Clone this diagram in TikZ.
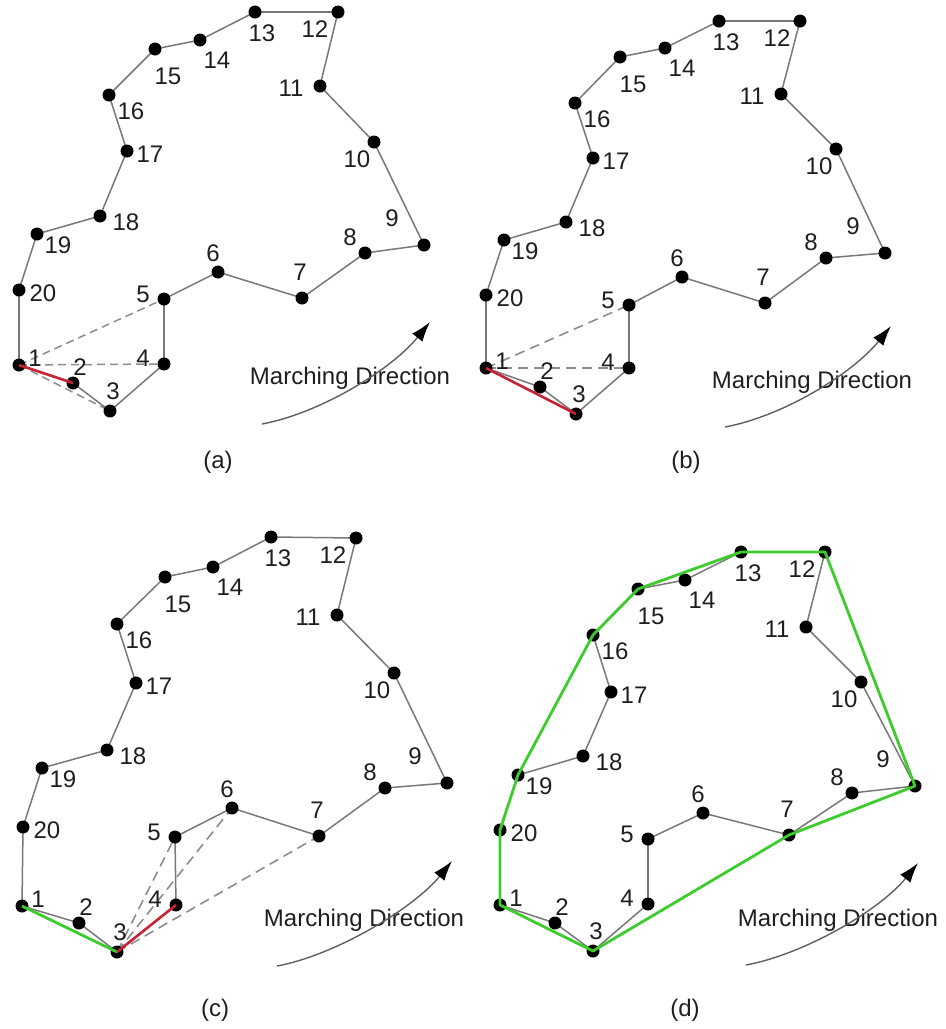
\documentclass[tikz,border=0pt]{standalone}
\usepackage{fontspec}
\setmainfont{Liberation Sans}
\usetikzlibrary{calc,arrows.meta}
\definecolor{edgegray}{RGB}{120,120,120}
\definecolor{dashgray}{RGB}{140,140,140}
\definecolor{hullgreen}{RGB}{60,205,45}
\definecolor{redline}{RGB}{200,35,50}
\definecolor{txtgray}{RGB}{30,30,30}
\definecolor{arrowgray}{RGB}{95,95,95}
\tikzset{
  edge/.style={draw=edgegray,line width=0.75pt},
  dashedge/.style={draw=dashgray,line width=0.75pt,dash pattern=on 4pt off 2.5pt},
  longdash/.style={draw=dashgray,line width=0.8pt,dash pattern=on 5pt off 3pt},
  redseg/.style={draw=redline,line width=1.3pt},
  greenseg/.style={draw=hullgreen,line width=1.4pt,line join=round},
  dot/.style={circle,fill=black,inner sep=0pt,minimum size=6.5pt},
  lbl/.style={inner sep=0pt,text=txtgray,font=\fontsize{12}{14}\selectfont},
  march/.style={draw=arrowgray,line width=0.7pt,-{Latex[length=10pt,width=6.5pt,color=black,fill=black]}},
}
\newcommand\mkpts[2]{%
  \foreach \i/\x/\y in {#2} {\coordinate (#1\i) at (\x,\y);}
  \foreach \i in {1,...,20} {\pgfmathtruncatemacro\j{mod(\i,20)+1}\draw[edge] (#1\i) -- (#1\j);}
}
\newcommand\mkdots[1]{%
  \foreach \i in {1,...,20} {\node[dot] (#1d\i) at (#1\i) {};}
}
\def\labofs{1/16/-7, 2/7/-16, 3/3/-20, 4/-21/-6, 5/-21/-5, 6/-5/-19, 7/-2/-26, 8/-15/-16, 9/-32/-27, 10/-17/17, 11/-29/2, 12/-23/17, 13/7/21, 14/17/20, 15/13/27, 16/22/16, 17/23/3, 18/26/6, 19/21/11, 20/24/3}
\newcommand\mklabels[1]{%
  \foreach \i/\dx/\dy in \labofs {\node[lbl] (#1l\i) at ($(#1\i)+(\dx,\dy)$) {\i};}
}
\newcommand\mkarrow[3]{% name, start, end
  \coordinate (#1s) at (#2); \coordinate (#1e) at (#3);
  \draw[march] (#1s) .. controls ($(#1s)+(59,-11)$) and ($(#1e)+(-38,47)$) .. (#1e);
}
\begin{document}
\begin{tikzpicture}[x=0.5pt,y=-0.5pt]
\useasboundingbox (0,0) rectangle (946,1029);
% ---------- point sets ----------
\mkpts{a}{1/19/365, 2/73/383, 3/110/411, 4/164/364, 5/164/299, 6/218/272, 7/302/298, 8/365/253, 9/424/245, 10/374/142, 11/320/86, 12/338/12, 13/255/12, 14/200/40, 15/155/49, 16/109/95, 17/127/151, 18/100/216, 19/37/234, 20/19/290}
\mkpts{b}{1/486/368, 2/540/387, 3/576/414, 4/629/368, 5/629/305, 6/682/277, 7/765/303, 8/826/258, 9/885/253, 10/836/149, 11/781/94, 12/800/21, 13/719/21, 14/665/48, 15/620/57, 16/575/103, 17/593/158, 18/566/222, 19/504/240, 20/486/295}
\mkpts{c}{1/22/906, 2/79/923, 3/117/952, 4/176/905, 5/175/837, 6/232/808, 7/319/836, 8/385/788, 9/447/783, 10/394/673, 11/337/615, 12/356/538, 13/271/537, 14/213/567, 15/165/577, 16/117/624, 17/136/683, 18/107/750, 19/42/768, 20/23/827}
\mkpts{d}{1/500/905, 2/555/923, 3/593/951, 4/648/904, 5/648/839, 6/703/813, 7/789/835, 8/852/793, 9/915/786, 10/861/682, 11/806/627, 12/825/552, 13/741/552, 14/685/580, 15/638/589, 16/593/635, 17/611/692, 18/583/756, 19/518/775, 20/500/830}
% ---------- dashed candidate lines ----------
\draw[dashedge] (a1) -- (a5);
\draw[dashedge] (a1) -- (a4);
\draw[dashedge] (a1) -- (a3);
\draw[longdash] (b1) -- (b5);
\draw[longdash] (b1) -- (b4);
\draw[longdash] (c3) -- (c5);
\draw[longdash] (c3) -- (c6);
\draw[longdash] (c3) -- (c7);
% ---------- dots ----------
\mkdots{a}\mkdots{b}\mkdots{c}\mkdots{d}
% ---------- coloured segments ----------
\draw[redseg] (a1) -- (a2);
\draw[redseg] (b1) -- (b3);
\draw[greenseg] (c1) -- (c3);
\draw[redseg] (c3) -- (c4);
\draw[greenseg] (d1) -- (d3) -- (d7) -- (d9) -- (d12) -- (d13) -- (d15) -- (d16) -- (d19) -- (d20) -- cycle;
% ---------- labels ----------
\mklabels{a}\mklabels{b}\mklabels{c}\mklabels{d}
% ---------- marching direction ----------
\node[lbl] (am) at (350,378) {Marching Direction};
\node[lbl] (bm) at (812,382) {Marching Direction};
\node[lbl] (cm) at (364,920) {Marching Direction};
\node[lbl] (dm) at (838,920) {Marching Direction};
\mkarrow{ma}{262,424}{430,322}
\mkarrow{mb}{725,427}{891,326}
\mkarrow{mc}{277,966}{452,861}
\mkarrow{md}{746,965}{918,863}
% ---------- captions ----------
\node[lbl] (capa) at (218,462) {(a)};
\node[lbl] (capb) at (686,462) {(b)};
\node[lbl] (capc) at (215,1010) {(c)};
\node[lbl] (capd) at (685,1010) {(d)};
\end{tikzpicture}
\end{document}
